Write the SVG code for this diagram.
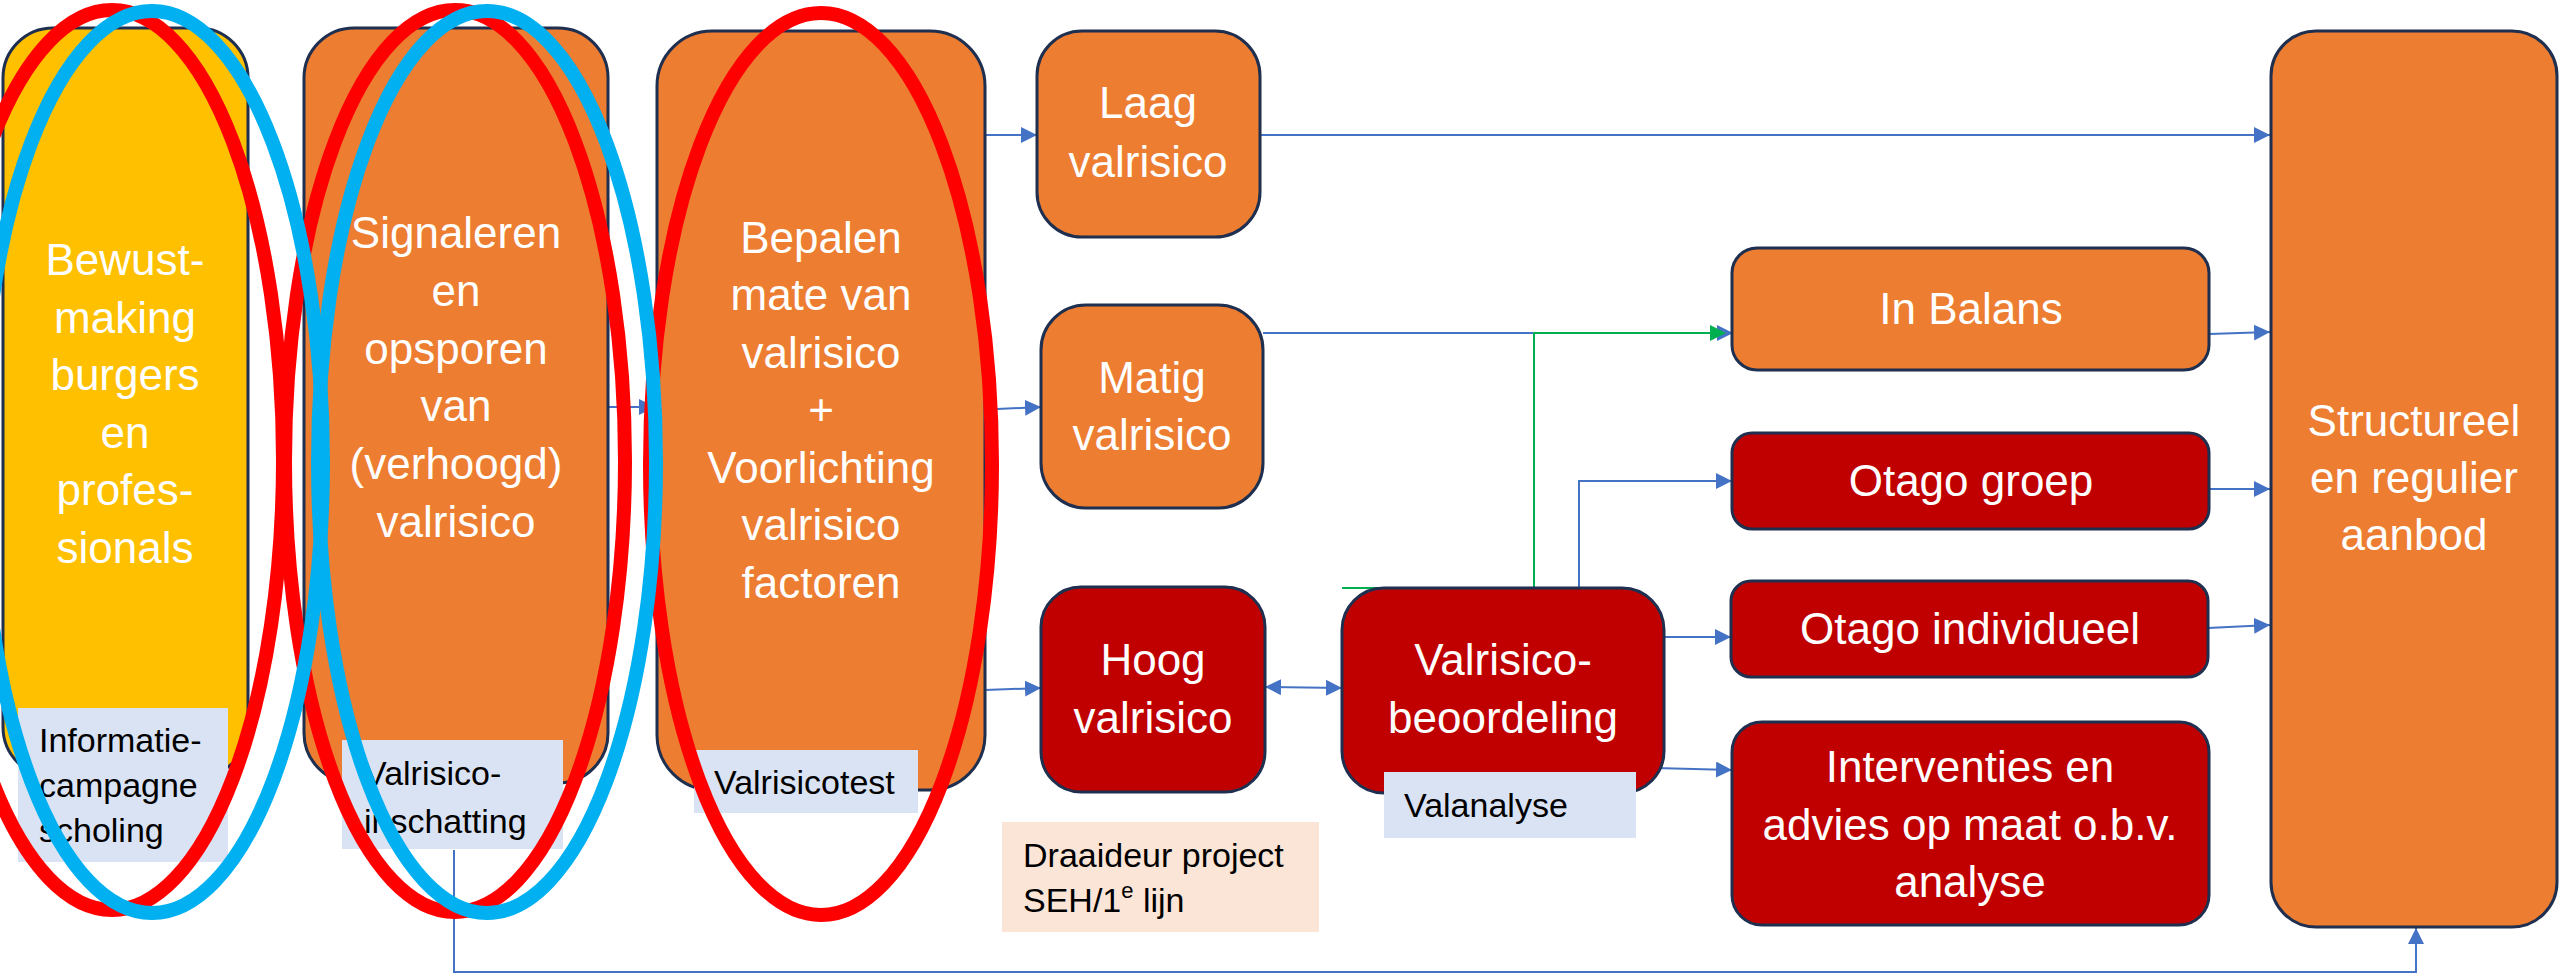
<svg xmlns="http://www.w3.org/2000/svg" width="2560" height="976" viewBox="0 0 2560 976">
<style>
.box{stroke:#1F2F4F;stroke-width:3}
.or{fill:#ED7D31}
.ye{fill:#FFC000}
.rd{fill:#C00000}
.big{font-family:"Liberation Sans",Arial,sans-serif;font-size:44px;fill:#FFFFFF;text-anchor:middle}
.lab{font-family:"Liberation Sans",Arial,sans-serif;font-size:34px;fill:#000000}
.lbox{fill:#DAE3F3}
.con{fill:none;stroke:#4472C4;stroke-width:2}
.grn{fill:none;stroke:#00B050;stroke-width:2}
.ell{fill:none;stroke-width:14}
</style>
<defs>
<marker id="ab" markerUnits="userSpaceOnUse" markerWidth="16" markerHeight="16" refX="16" refY="8" orient="auto">
<path d="M0,0 L16,8 L0,16 Z" fill="#4472C4"/>
</marker>
<marker id="abs" markerUnits="userSpaceOnUse" markerWidth="16" markerHeight="16" refX="16" refY="8" orient="auto-start-reverse">
<path d="M0,0 L16,8 L0,16 Z" fill="#4472C4"/>
</marker>
<marker id="ag" markerUnits="userSpaceOnUse" markerWidth="16" markerHeight="16" refX="14" refY="8" orient="auto">
<path d="M0,0 L16,8 L0,16 Z" fill="#00B050"/>
</marker>
</defs>
<rect width="2560" height="976" fill="#FFFFFF"/>

<g id="connectors">
<path class="con" d="M608,407 L655,407" marker-end="url(#ab)"/>
<path class="con" d="M985,135 L1037,135" marker-end="url(#ab)"/>
<path class="con" d="M997,409 L1041,407" marker-end="url(#ab)"/>
<path class="con" d="M985,690 L1041,688" marker-end="url(#ab)"/>
<path class="con" d="M1260,135 L2270,135" marker-end="url(#ab)"/>
<path class="con" d="M1263,333 L1733,333" marker-end="url(#ab)"/>
<path class="grn" d="M1342,588 L1534,588 L1534,333 L1724,333" marker-end="url(#ag)"/>
<path class="con" d="M1265,687 L1342,688" marker-start="url(#abs)" marker-end="url(#ab)"/>
<path class="con" d="M1617,588 L1579,588 L1579,481 L1732,481" marker-end="url(#ab)"/>
<path class="con" d="M1664,637 L1731,637" marker-end="url(#ab)"/>
<path class="con" d="M1655,768 L1732,770" marker-end="url(#ab)"/>
<path class="con" d="M2209,334 L2270,332" marker-end="url(#ab)"/>
<path class="con" d="M2209,489 L2270,489" marker-end="url(#ab)"/>
<path class="con" d="M2208,628 L2270,625" marker-end="url(#ab)"/>
<path class="con" d="M454,850 L454,972 L2416,972 L2416,928" marker-end="url(#ab)"/>
</g>

<g id="n-bewust">
<rect class="box ye" x="3" y="28" width="245" height="749" rx="50"/>
<text class="big"><tspan x="125" y="275">Bewust-</tspan><tspan x="125" y="333">making</tspan><tspan x="125" y="390">burgers</tspan><tspan x="125" y="448">en</tspan><tspan x="125" y="505">profes-</tspan><tspan x="125" y="563">sionals</tspan></text>
</g>
<g id="n-informatie">
<rect class="lbox" x="18" y="708" width="210" height="154"/>
<text class="lab"><tspan x="39" y="752">Informatie-</tspan><tspan x="39" y="797">campagne</tspan><tspan x="39" y="842">scholing</tspan></text>
</g>

<g id="n-signaleren">
<rect class="box or" x="304" y="28" width="304" height="755" rx="50"/>
<text class="big"><tspan x="456" y="248">Signaleren</tspan><tspan x="456" y="306">en</tspan><tspan x="456" y="364">opsporen</tspan><tspan x="456" y="421">van</tspan><tspan x="456" y="479">(verhoogd)</tspan><tspan x="456" y="537">valrisico</tspan></text>
</g>
<g id="n-inschatting">
<rect class="lbox" x="342" y="740" width="221" height="109"/>
<text class="lab"><tspan x="364" y="785">Valrisico-</tspan><tspan x="364" y="833">inschatting</tspan></text>
</g>

<g id="n-bepalen">
<rect class="box or" x="657" y="31" width="328" height="759" rx="55"/>
<text class="big"><tspan x="821" y="253">Bepalen</tspan><tspan x="821" y="310">mate van</tspan><tspan x="821" y="368">valrisico</tspan><tspan x="821" y="425">+</tspan><tspan x="821" y="483">Voorlichting</tspan><tspan x="821" y="540">valrisico</tspan><tspan x="821" y="598">factoren</tspan></text>
</g>
<g id="n-valrisicotest">
<rect class="lbox" x="694" y="750" width="224" height="63"/>
<text class="lab" x="714" y="794">Valrisicotest</text>
</g>

<g id="n-laag">
<rect class="box or" x="1037" y="31" width="223" height="206" rx="45"/>
<text class="big"><tspan x="1148" y="118">Laag</tspan><tspan x="1148" y="177">valrisico</tspan></text>
</g>
<g id="n-matig">
<rect class="box or" x="1041" y="305" width="222" height="203" rx="45"/>
<text class="big"><tspan x="1152" y="393">Matig</tspan><tspan x="1152" y="450">valrisico</tspan></text>
</g>
<g id="n-hoog">
<rect class="box rd" x="1041" y="587" width="224" height="205" rx="40"/>
<text class="big"><tspan x="1153" y="675">Hoog</tspan><tspan x="1153" y="733">valrisico</tspan></text>
</g>
<g id="n-draaideur">
<rect x="1002" y="822" width="317" height="110" fill="#FBE5D6"/>
<text class="lab"><tspan x="1023" y="867">Draaideur project</tspan><tspan x="1023" y="912">SEH/1</tspan><tspan dy="-14" font-size="22">e</tspan><tspan dy="14"> lijn</tspan></text>
</g>

<g id="n-beoordeling">
<rect class="box rd" x="1342" y="588" width="322" height="205" rx="42"/>
<text class="big"><tspan x="1503" y="675">Valrisico-</tspan><tspan x="1503" y="733">beoordeling</tspan></text>
</g>
<g id="n-valanalyse">
<rect class="lbox" x="1384" y="772" width="252" height="66"/>
<text class="lab" x="1404" y="817">Valanalyse</text>
</g>

<g id="n-inbalans">
<rect class="box or" x="1732" y="248" width="477" height="122" rx="25"/>
<text class="big" x="1971" y="324">In Balans</text>
</g>
<g id="n-otagogroep">
<rect class="box rd" x="1732" y="433" width="477" height="96" rx="20"/>
<text class="big" x="1971" y="496">Otago groep</text>
</g>
<g id="n-otagoind">
<rect class="box rd" x="1731" y="581" width="477" height="96" rx="20"/>
<text class="big" x="1970" y="644">Otago individueel</text>
</g>
<g id="n-interventies">
<rect class="box rd" x="1732" y="722" width="477" height="203" rx="30"/>
<text class="big"><tspan x="1970" y="782">Interventies en</tspan><tspan x="1970" y="840">advies op maat o.b.v.</tspan><tspan x="1970" y="897">analyse</tspan></text>
</g>

<g id="n-structureel">
<rect class="box or" x="2271" y="31" width="286" height="896" rx="45"/>
<text class="big"><tspan x="2414" y="436">Structureel</tspan><tspan x="2414" y="493">en regulier</tspan><tspan x="2414" y="550">aanbod</tspan></text>
</g>

<g id="highlights">
<ellipse class="ell" cx="112" cy="460" rx="171" ry="450" stroke="#FF0000"/>
<ellipse class="ell" cx="455" cy="461" rx="170" ry="451" stroke="#FF0000"/>
<ellipse class="ell" cx="821" cy="464" rx="171" ry="451" stroke="#FF0000"/>
<ellipse class="ell" cx="152" cy="462" rx="171" ry="451" stroke="#00B0F0"/>
<ellipse class="ell" cx="487" cy="462" rx="169" ry="451" stroke="#00B0F0"/>
</g>
</svg>
